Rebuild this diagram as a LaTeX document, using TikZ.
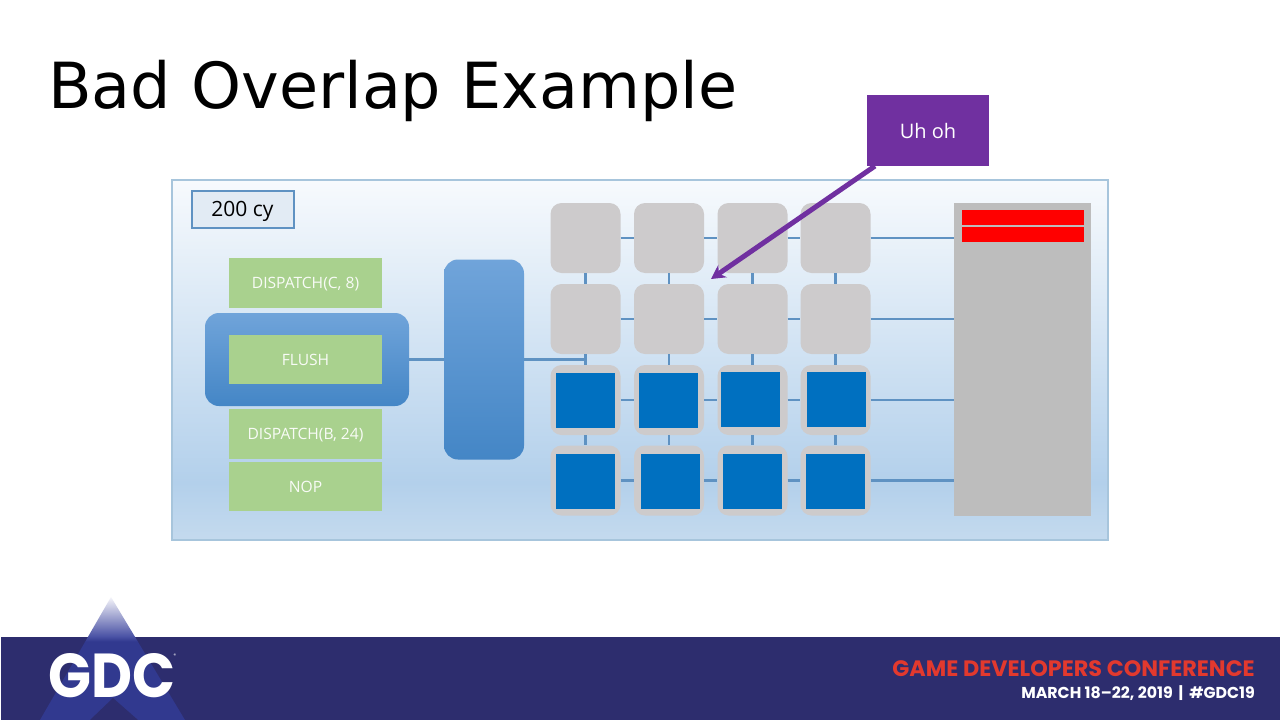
\documentclass[tikz,border=0pt]{standalone}
\usepackage{fontspec}
\setmainfont{Open Sans}
\newfontfamily\titlefont{DejaVu Sans}
\newfontfamily\logofont{Poppins}
\usetikzlibrary{arrows.meta,positioning}

\definecolor{linkblue}{HTML}{5F92C2}
\definecolor{cellgrey}{HTML}{CDCBCC}
\definecolor{coreblue}{HTML}{0070C0}
\definecolor{cmdgreen}{HTML}{A9D18E}
\definecolor{uhpurple}{HTML}{7030A0}
\definecolor{gdcnavy}{HTML}{2D2D6E}
\definecolor{gdcred}{HTML}{E2392E}
\definecolor{panelline}{HTML}{A7C5DC}
\definecolor{panelbot}{HTML}{C4DAEE}
\definecolor{panelmid}{HTML}{B3D0EB}
\definecolor{paneltop}{HTML}{F7FAFD}
\definecolor{unitbot}{HTML}{4486C6}
\definecolor{unittop}{HTML}{70A4DA}
\definecolor{peakbot}{HTML}{31398F}
\definecolor{peakmid}{HTML}{4A52A5}
\definecolor{peaktop}{HTML}{F5F5FA}

\pgfdeclareverticalshading{panelshade}{100bp}{
    color(0bp)=(panelbot);
    color(25bp)=(panelbot);
    color(33bp)=(panelmid);
    color(75bp)=(paneltop);
    color(100bp)=(paneltop)}
\pgfdeclareverticalshading{unitshade}{100bp}{
    color(0bp)=(unitbot);
    color(25bp)=(unitbot);
    color(75bp)=(unittop);
    color(100bp)=(unittop)}
\pgfdeclareverticalshading{peakshade}{100bp}{
    color(0bp)=(peakbot);
    color(25bp)=(peakbot);
    color(57bp)=(peakbot);
    color(59bp)=(peakmid);
    color(75bp)=(peaktop);
    color(100bp)=(peaktop)}

\tikzset{
    cmdbox/.style={fill=cmdgreen, text=white!92!cmdgreen, inner sep=0pt, text depth=0pt,
        minimum width=153pt, minimum height=50pt,
        font=\fontsize{15.6}{17}\selectfont},
    cell/.style={fill=cellgrey, inner sep=0pt, rounded corners=11pt,
        minimum width=70pt, minimum height=70pt},
    core/.style={fill=coreblue, inner sep=0pt,
        minimum width=59pt, minimum height=55pt},
    unit/.style={shading=unitshade, inner sep=0pt, rounded corners=14pt},
    link/.style={draw=linkblue, line width=2.2pt},
    slot/.style={fill=red, inner sep=0pt, minimum width=122pt, minimum height=15pt}
}

\begin{document}
\begin{tikzpicture}[x=1pt, y=-1pt]
    \useasboundingbox (0,0) rectangle (1280,720);
    \fill[white] (0,0) rectangle (1280,720);

    \node[anchor=base west, inner sep=0pt, font=\titlefont\fontsize{63.6}{70}\selectfont] (title) at (48,108) {Bad Overlap Example};

    \node[draw=panelline, line width=2pt, shading=panelshade, inner sep=0pt,
        minimum width=936pt, minimum height=360pt] (panel) at (640,360) {};

    \node[draw=linkblue, line width=2pt, fill=linkblue!18!white, inner sep=0pt, text depth=0pt,
        minimum width=102pt, minimum height=37pt, font=\fontsize{21}{22}\selectfont] (cycles) at (242.5,209) {200 cy};

    % command list
    \node[cmdbox] (dispatchc) at (305.5,283) {DISPATCH(C, 8)};
    \node[unit, minimum width=204pt, minimum height=93pt] (flushunit) at (307,359.5) {};
    \node[cmdbox, minimum height=49pt] (flush) at (305.5,359.5) {FLUSH};
    \node[cmdbox] (dispatchb) [below of=flush, node distance=74.5pt] {DISPATCH(B, 24)};
    \node[cmdbox, minimum height=49pt] (nop) [below of=dispatchb, node distance=52.5pt] {NOP};
    \node[unit, minimum width=80pt, minimum height=200pt] (column) at (484,359.5) {};

    % shader cores
    \node[cell] (g11) at (585.5,238) {};
    \node[cell] (g12) at (669,238) {};
    \node[cell] (g13) at (752.5,238) {};
    \node[cell] (g14) at (835.5,238) {};

    \node[cell] (g21) [below of=g11, node distance=81pt] {};
    \node[cell] (g22) [below of=g12, node distance=81pt] {};
    \node[cell] (g23) [below of=g13, node distance=81pt] {};
    \node[cell] (g24) [below of=g14, node distance=81pt] {};

    \node[cell] (g31) [below of=g21, node distance=81pt] {};
    \node[cell] (g32) [below of=g22, node distance=81pt] {};
    \node[cell] (g33) [below of=g23, node distance=81pt] {};
    \node[cell] (g34) [below of=g24, node distance=81pt] {};

    \node[cell] (g41) [below of=g31, node distance=80.5pt] {};
    \node[cell] (g42) [below of=g32, node distance=80.5pt] {};
    \node[cell] (g43) [below of=g33, node distance=80.5pt] {};
    \node[cell] (g44) [below of=g34, node distance=80.5pt] {};

    \node[core] (c31) at (585.5,400) {};
    \node[core] (c32) at (668.5,400.5) {};
    \node[core] (c33) at (750.5,399.5) {};
    \node[core] (c34) at (836,399.5) {};
    \node[core] (c41) at (585.5,481) {};
    \node[core] (c42) at (670.5,481.5) {};
    \node[core] (c43) at (752.5,481.5) {};
    \node[core] (c44) at (835.5,481.5) {};

    % result buffer
    \node[fill=black!26, inner sep=0pt, minimum width=137pt, minimum height=313pt] (buffer) at (1022.5,359.5) {};
    \node[slot] (slota) at (1022.5,217.5) {};
    \node[slot] (slotb) [below of=slota, node distance=17pt] {};

    \draw[link] (flushunit.east) -- (column.west);
    \draw[link] (column.east) -- (column.east -| g21.south);

    \draw[link] (g11) -- (g12); \draw[link] (g12) -- (g13); \draw[link] (g13) -- (g14);
    \draw[link] (g21) -- (g22); \draw[link] (g22) -- (g23); \draw[link] (g23) -- (g24);
    \draw[link] (g31) -- (g32); \draw[link] (g32) -- (g33); \draw[link] (g33) -- (g34);
    \draw[link] (g41) -- (g42); \draw[link] (g42) -- (g43); \draw[link] (g43) -- (g44);

    \draw[link] (g14.east) -- (g14.east -| buffer.west);
    \draw[link] (g24.east) -- (g24.east -| buffer.west);
    \draw[link] (g34.east) -- (g34.east -| buffer.west);
    \draw[link] (g44.east) -- (g44.east -| buffer.west);

    \draw[link] (g11) -- (g21) -- (g31) -- (g41);
    \draw[link] (g12) -- (g22) -- (g32) -- (g42);
    \draw[link] (g13) -- (g23) -- (g33) -- (g43);
    \draw[link] (g14) -- (g24) -- (g34) -- (g44);

    % callout
    \node[fill=uhpurple, text=white, inner sep=0pt, minimum width=122pt, minimum height=71pt, text depth=0pt,
        font=\fontsize{20}{22}\selectfont] (uhoh) at (928,130.5) {Uh oh};
    \coordinate (uhfoot) at (875,166);
    \coordinate (uhtip) at (711,279);
    \draw[uhpurple, line width=5pt, -{Stealth[length=14pt,width=15pt]}] (uhfoot) -- (uhtip);

    % footer
    \fill[gdcnavy] (1,637) rectangle (1280,720);
    \shade[shading=peakshade] (111,597) -- (185,720) -- (40,720) -- cycle;
    \fill[gdcnavy] (113,698) -- (138,720) -- (90,720) -- cycle;
    \node[anchor=base west, inner sep=0pt, text=white, font=\logofont\bfseries\fontsize{62}{66}\selectfont] (gdc) at (48,697) {\scalebox{0.91}[1]{GDC}};
    \node[anchor=center, inner sep=0pt, text=white, font=\logofont\fontsize{5}{5}\selectfont] (gdcmark) at (175,656) {®};
    \node[anchor=base east, inner sep=0pt, text=gdcred, font=\logofont\bfseries\fontsize{22.3}{24}\selectfont] (conf) at (1255,676.5) {GAME DEVELOPERS CONFERENCE};
    \node[anchor=base east, inner sep=0pt, text=white, font=\logofont\fontseries{sb}\fontsize{15.8}{17}\selectfont] (dates) at (1255,698) {MARCH 18–22, 2019 \,|\, \#GDC19};
\end{tikzpicture}
\end{document}
